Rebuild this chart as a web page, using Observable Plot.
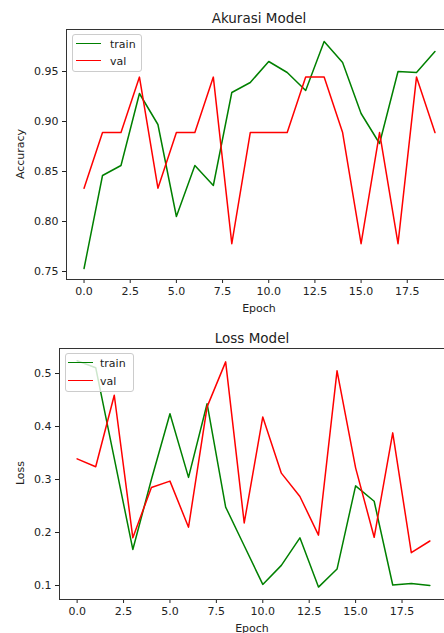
<!DOCTYPE html>
<html>
<head>
<meta charset="utf-8">
<script src="https://cdn.jsdelivr.net/npm/d3@7"></script>
<script src="https://cdn.jsdelivr.net/npm/@observablehq/plot@0.6"></script>
<style>
  html, body { margin: 0; padding: 0; background: #fff; overflow: hidden; }
  #root { position: relative; width: 444px; height: 633px; overflow: hidden; font-family: "DejaVu Sans", sans-serif; color: #222; }
  .abs { position: absolute; }
  .title { font-size: 13.5px; white-space: nowrap; transform: translate(-50%, -50%); }
  .xlab { font-size: 11px; white-space: nowrap; transform: translate(-50%, -50%); }
  .ylab { font-size: 11px; white-space: nowrap; transform: translate(-50%, -50%) rotate(-90deg); }
  .legend { border: 1px solid #ccc; border-radius: 3px; background: rgba(255,255,255,0.8); box-sizing: border-box; z-index: 5; }
  .swatch { position: absolute; height: 0; border-top: 1.5px solid; width: 25px; }
  .ltext { position: absolute; font-size: 11px; transform: translateY(-50%); }
  svg { max-width: none !important; }
</style>
</head>
<body>
<div id="root"></div>
<script>
const epochs = [0,1,2,3,4,5,6,7,8,9,10,11,12,13,14,15,16,17,18,19];
const trainAcc = [0.753,0.846,0.856,0.928,0.897,0.805,0.856,0.836,0.929,0.939,0.960,0.949,0.931,0.980,0.959,0.908,0.878,0.950,0.949,0.970];
const valAcc = [0.8333,0.8889,0.8889,0.9444,0.8333,0.8889,0.8889,0.9444,0.7778,0.8889,0.8889,0.8889,0.9444,0.9444,0.8889,0.7778,0.8889,0.7778,0.9444,0.8889];
const trainLoss = [0.524,0.511,0.340,0.168,0.300,0.424,0.304,0.443,0.248,0.175,0.102,0.138,0.190,0.097,0.131,0.288,0.259,0.101,0.104,0.100];
const valLoss = [0.339,0.324,0.459,0.190,0.285,0.297,0.210,0.437,0.522,0.218,0.418,0.312,0.268,0.195,0.505,0.322,0.191,0.388,0.162,0.184];
const xTicks = [0,2.5,5,7.5,10,12.5,15,17.5];
const accTicks = [0.75,0.80,0.85,0.90,0.95];
const lossTicks = [0.1,0.2,0.3,0.4,0.5];
const seriesNames = ["train","val"];
const seriesColors = ["green","red"];

const root = document.getElementById("root");

function rows(ys, name) { return epochs.map((e, i) => ({epoch: e, value: ys[i], series: name})); }

function makeChart(o) {
  const data = rows(o.train, "train").concat(rows(o.val, "val"));
  const svg = Plot.plot({
    width: o.width, height: 300,
    marginTop: o.mt, marginBottom: 21, marginLeft: o.ml, marginRight: 0,
    style: {fontFamily: "DejaVu Sans, sans-serif", fontSize: "11px", color: "#222", background: "transparent", overflow: "visible", maxWidth: "none"},
    x: {domain: [-0.95, 19.95], ticks: xTicks, tickFormat: d3.format(".1f"), tickSize: 4, tickPadding: 4, label: null},
    y: {domain: o.ydom, ticks: o.yticks, tickFormat: d3.format(o.yfmt), tickSize: 4, tickPadding: 4, label: null},
    color: {domain: seriesNames, range: seriesColors},
    marks: [
      Plot.line(data, {x: "epoch", y: "value", z: "series", stroke: "series", strokeWidth: 1.5}),
      Plot.frame({stroke: "#333", strokeWidth: 1})
    ]
  });
  svg.style.position = "absolute";
  svg.style.left = "0px";
  svg.style.top = o.top + "px";
  svg.style.maxWidth = "none";
  root.appendChild(svg);
}

function addDiv(cls, text, x, y) {
  const d = document.createElement("div");
  d.className = "abs " + cls;
  d.textContent = text;
  d.style.left = x + "px"; d.style.top = y + "px";
  root.appendChild(d);
  return d;
}

function addLegend(x, y, w, h, rowsY, lineX, textX) {
  const box = document.createElement("div");
  box.className = "abs legend";
  box.style.left = x + "px"; box.style.top = y + "px";
  box.style.width = w + "px"; box.style.height = h + "px";
  seriesNames.forEach((n, i) => {
    const s = document.createElement("div");
    s.className = "swatch";
    s.style.borderTopColor = seriesColors[i];
    s.style.left = (lineX - x - 1) + "px";
    s.style.top = (rowsY[i] - y - 1.75) + "px";
    box.appendChild(s);
    const t = document.createElement("div");
    t.className = "ltext";
    t.textContent = n;
    t.style.left = (textX - x - 1) + "px";
    t.style.top = (rowsY[i] - y - 1) + "px";
    box.appendChild(t);
  });
  root.appendChild(box);
}

makeChart({top: 0, width: 452, mt: 29, ml: 66, train: trainAcc, val: valAcc, ydom: [0.742, 0.992], yticks: accTicks, yfmt: ".2f"});
makeChart({top: 320, width: 447, mt: 28, ml: 59, train: trainLoss, val: valLoss, ydom: [0.0736, 0.5472], yticks: lossTicks, yfmt: ".1f"});

addDiv("title", "Akurasi Model", 259, 18);
addDiv("xlab", "Epoch", 259, 308);
addDiv("ylab", "Accuracy", 20, 154);
addDiv("title", "Loss Model", 252, 338);
addDiv("xlab", "Epoch", 252, 628);
addDiv("ylab", "Loss", 20, 473);

addLegend(72, 34, 70, 38, [44, 61], 76, 110);
addLegend(65, 353, 69, 39, [363, 381], 68, 100);
</script>
</body>
</html>
